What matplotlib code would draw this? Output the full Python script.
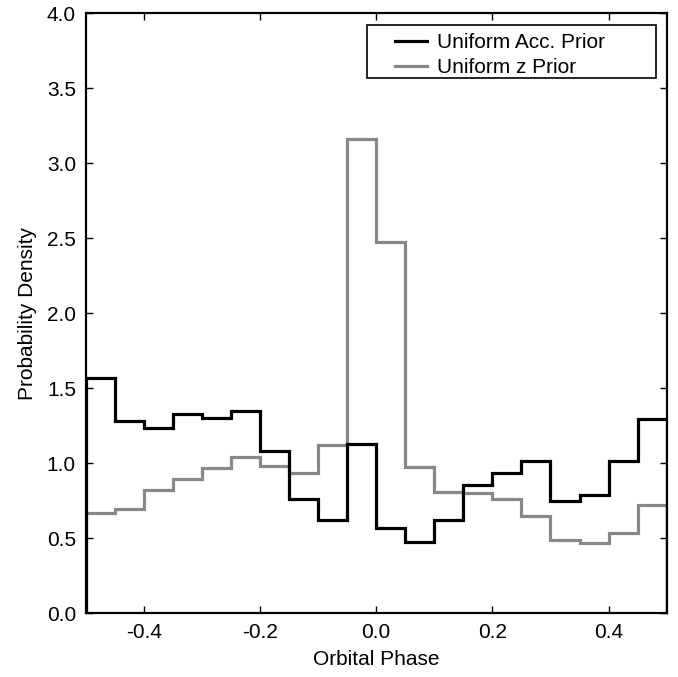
import matplotlib
matplotlib.use("Agg")
import matplotlib.pyplot as plt
from matplotlib.patches import Rectangle
import numpy as np

plt.rcParams['font.family'] = ['Liberation Sans', 'DejaVu Sans']

bin_edges = np.linspace(-0.5, 0.5, 21)
acc_prior = [1.567, 1.282, 1.238, 1.327, 1.304, 1.349, 1.084, 0.760, 0.622, 1.129,
             0.567, 0.478, 0.620, 0.853, 0.938, 1.018, 0.749, 0.791, 1.018, 1.295]
z_prior = [0.669, 0.693, 0.822, 0.893, 0.969, 1.044, 0.982, 0.938, 1.120, 3.160,
           2.473, 0.978, 0.811, 0.804, 0.760, 0.649, 0.489, 0.467, 0.533, 0.724]
xticks = [-0.4, -0.2, 0.0, 0.2, 0.4]
yticks = [0.0, 0.5, 1.0, 1.5, 2.0, 2.5, 3.0, 3.5, 4.0]

fig = plt.figure(figsize=(6.78, 6.77), dpi=100)
ax = fig.add_axes([0.1264, 0.0941, 0.8569, 0.8862])

ax.stairs(z_prior, bin_edges, baseline=0, color='#888888', lw=2.3, label='Uniform z Prior', zorder=2)
ax.stairs(acc_prior, bin_edges, baseline=0, color='black', lw=2.3, label='Uniform Acc. Prior', zorder=3)

ax.set_xlim(-0.5, 0.5)
ax.set_ylim(0, 4.0)
ax.set_xticks(xticks)
ax.set_xticklabels([f"{t:.1f}" for t in xticks])
ax.set_yticks(yticks)
ax.set_yticklabels([f"{t:.1f}" for t in yticks])
ax.tick_params(direction='in', length=5, width=1, top=True, right=True, labelsize=15, pad=7)
for s in ax.spines.values():
    s.set_linewidth(1.6)

ax.set_xlabel('Orbital Phase', fontsize=15, labelpad=6)
ax.set_ylabel('Probability Density', fontsize=15, labelpad=7)

# legend frame drawn separately (wider than the text block)
ax.add_patch(Rectangle((0.484, 0.892), 0.4976, 0.0885, transform=ax.transAxes,
                       facecolor='white', edgecolor='black', lw=1.2, zorder=5))

handles, labels = ax.get_legend_handles_labels()
leg = ax.legend(handles[::-1], labels[::-1], loc='upper left', fontsize=15,
                frameon=False, handlelength=1.55, handletextpad=0.5,
                labelspacing=0.3, borderpad=0.0, borderaxespad=0.0,
                bbox_to_anchor=(0.532, 0.9675))
leg.set_zorder(6)

fig.savefig('out.png', dpi=100)
